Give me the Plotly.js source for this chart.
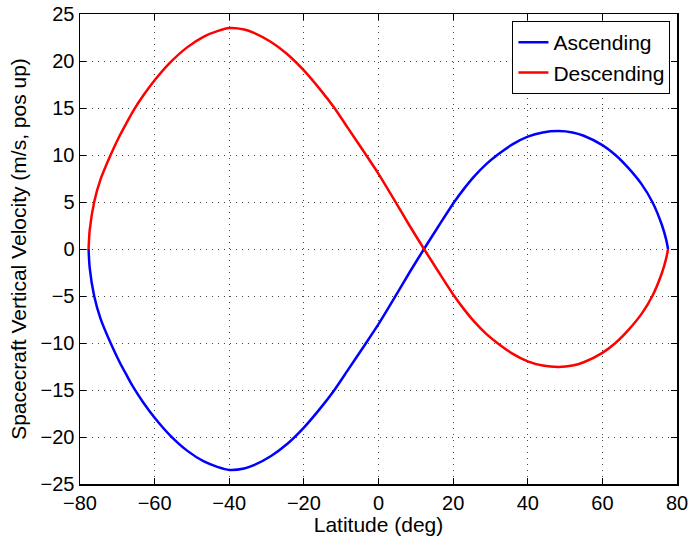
<!DOCTYPE html>
<html>
<head>
<meta charset="utf-8">
<script src="https://cdn.plot.ly/plotly-3.0.1.min.js"></script>
<style>html,body{margin:0;padding:0;background:#fff;}#chart{width:689px;height:539px;}</style>
</head>
<body>
<div id="chart"></div>
<script>
// Ascending pass: latitude (deg) and vertical velocity (m/s)
const ascLat = [-77.7, -77.4, -76.2, -74.5, -71.8, -69.3, -67.4, -65.8, -63.0, -60.0, -55.8, -51.3, -46.8, -43.0, -40.0, -36.0, -33.4, -28.9, -24.5, -20.0, -15.5, -12.0, -8.0, -3.5, 0.0, 4.5, 8.3, 12.2, 16.2, 20.3, 23.0, 25.6, 28.8, 32.0, 36.0, 40.0, 44.0, 48.3, 52.0, 55.0, 60.0, 63.5, 67.0, 70.5, 73.4, 76.0, 77.1, 77.6];
const ascVel = [0.0, -2.0, -5.0, -7.4, -10.0, -12.1, -13.5, -14.65, -16.35, -17.95, -19.85, -21.45, -22.6, -23.2, -23.5, -23.35, -23.0, -22.05, -20.75, -19.0, -16.9, -15.1, -12.75, -10.1, -8.0, -5.05, -2.5, 0.0, 2.5, 5.0, 6.45, 7.7, 9.0, 10.05, 11.15, 11.95, 12.4, 12.55, 12.4, 12.05, 11.05, 10.0, 8.6, 6.9, 5.0, 2.5, 1.0, 0.0];

// Descending pass
const descLat = [-77.7, -77.4, -76.2, -74.5, -71.8, -69.3, -67.4, -65.8, -63.0, -60.0, -55.8, -51.3, -46.8, -43.0, -40.0, -36.0, -33.4, -28.9, -24.5, -20.0, -15.5, -12.0, -8.0, -3.5, 0.0, 4.5, 8.3, 12.2, 16.2, 20.3, 23.0, 25.6, 28.8, 32.0, 36.0, 40.0, 44.0, 48.3, 52.0, 55.0, 60.0, 63.5, 67.0, 70.5, 73.4, 76.0, 77.1, 77.6];
const descVel = [0.0, 2.0, 5.0, 7.4, 10.0, 12.1, 13.5, 14.65, 16.35, 17.95, 19.85, 21.45, 22.6, 23.2, 23.5, 23.35, 23.0, 22.05, 20.75, 19.0, 16.9, 15.1, 12.75, 10.1, 8.0, 5.05, 2.5, 0.0, -2.5, -5.0, -6.45, -7.7, -9.0, -10.05, -11.15, -11.95, -12.4, -12.55, -12.4, -12.05, -11.05, -10.0, -8.6, -6.9, -5.0, -2.5, -1.0, 0.0];

const xTicks = [-80, -60, -40, -20, 0, 20, 40, 60, 80];
const yTicks = [-25, -20, -15, -10, -5, 0, 5, 10, 15, 20, 25];

const FONT = 'Liberation Sans, Arial, Helvetica, sans-serif';

const traces = [
  {x: ascLat, y: ascVel, type: 'scatter', mode: 'lines', name: 'Ascending',
   line: {color: 'rgb(0,0,255)', width: 2.5, shape: 'spline', smoothing: 0.7}},
  {x: descLat, y: descVel, type: 'scatter', mode: 'lines', name: 'Descending',
   line: {color: 'rgb(255,0,0)', width: 2.5, shape: 'spline', smoothing: 0.7}}
];

const axisCommon = {
  showline: true, linecolor: '#000', linewidth: 1.5, mirror: 'ticks',
  ticks: 'inside', ticklen: 6, tickwidth: 1, tickcolor: '#000',
  showgrid: true, gridcolor: '#444', gridwidth: 1, griddash: '1px,5px',
  zeroline: false, tickfont: {family: FONT, size: 20, color: '#000'}
};

const layout = {
  width: 689, height: 539,
  margin: {l: 80, r: 12, t: 14, b: 55},
  paper_bgcolor: '#fff', plot_bgcolor: '#fff',
  showlegend: true,
  legend: {x: 0.989, y: 0.985, xanchor: 'right', yanchor: 'top',
    bgcolor: '#fff', bordercolor: '#000', borderwidth: 1,
    font: {family: FONT, size: 21, color: '#000'}, tracegroupgap: 0},
  xaxis: Object.assign({}, axisCommon, {
    range: [-80, 80], tickmode: 'array', tickvals: xTicks,
    ticktext: xTicks.map(v => v < 0 ? '\u2212' + Math.abs(v) : String(v)),
    title: {text: 'Latitude (deg)', font: {family: FONT, size: 21, color: '#000'}, standoff: 2}
  }),
  yaxis: Object.assign({}, axisCommon, {
    range: [-25, 25], tickmode: 'array', tickvals: yTicks,
    ticktext: yTicks.map(v => v < 0 ? '\u2212' + Math.abs(v) : String(v)),
    title: {text: 'Spacecraft Vertical Velocity (m/s, pos up)', font: {family: FONT, size: 21, color: '#000'}, standoff: 8}
  })
};

Plotly.newPlot('chart', traces, layout, {displayModeBar: false, staticPlot: true});
</script>
</body>
</html>
